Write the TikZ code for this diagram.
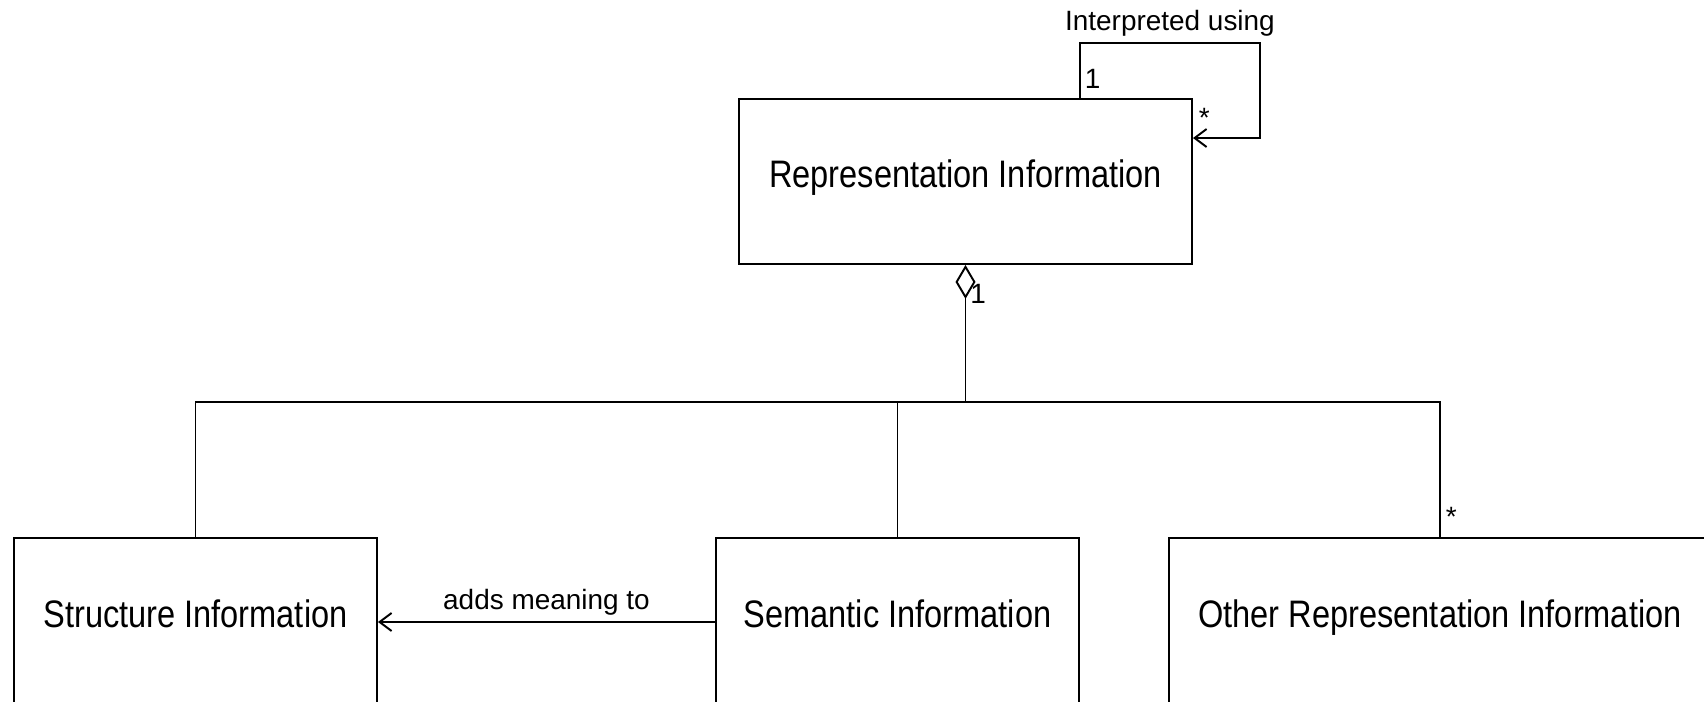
\documentclass[tikz,border=0pt]{standalone}
\usepackage{fontspec}
\setmainfont{Liberation Sans}
\newfontfamily\boxfont{Liberation Sans}[FakeStretch=0.85]
\usetikzlibrary{arrows.meta}

\begin{document}
\begin{tikzpicture}[
    line width=1.1pt,
    classbox/.style={draw, inner sep=0pt, text height=0.55cm, text depth=0.31cm,
      font=\boxfont\fontsize{21.8pt}{26pt}\selectfont},
    role/.style={inner sep=0pt, font=\fontsize{15.9pt}{19pt}\selectfont},
    assoclabel/.style={inner sep=0.12cm, font=\fontsize{15.9pt}{19pt}\selectfont},
    navarrow/.style={-{Straight Barb[length=0.24cm,width=0.36cm]}},
    aggregate/.style={{Diamond[open,length=0.68cm,width=0.40cm]}-}]
    \useasboundingbox (0cm,0cm) rectangle (34.08cm,14.04cm);

    \node[classbox, minimum width=9.06cm, minimum height=3.30cm] (RepInfo)
    at (19.31cm,10.41cm) {Representation Information};
    \node[classbox, minimum width=7.26cm, minimum height=3.36cm] (StructInfo)
    at (3.91cm,1.60cm) {Structure Information};
    \node[classbox, minimum width=7.26cm, minimum height=3.36cm] (SemInfo)
    at (17.95cm,1.60cm) {Semantic Information};
    \node[classbox, minimum width=10.84cm, minimum height=3.36cm] (OtherInfo)
    at (28.80cm,1.60cm) {Other Representation Information};

    \coordinate (Bus) at (0cm,6.00cm);
    \coordinate (LoopStart) at ([xshift=-2.26cm]RepInfo.north east);
    \coordinate (LoopEnd) at ([yshift=-0.80cm]RepInfo.north east);

    \draw[navarrow] (LoopStart) -- ++(0cm,1.10cm) -| ([xshift=1.34cm]LoopEnd)
    node[pos=0.25, above, assoclabel] {Interpreted using} -- (LoopEnd);
    \node[role, anchor=base west] (LoopOne) at ([xshift=0.08cm,yshift=0.20cm]LoopStart) {1};
    \node[role, anchor=base west] (LoopMany) at ([xshift=0.10cm,yshift=0.22cm]LoopEnd) {*};

    \draw[aggregate] (RepInfo.south) -- (RepInfo.south |- Bus);
    \node[role, anchor=base west] (AggOne) at ([xshift=0.08cm,yshift=-0.78cm]RepInfo.south) {1};
    \draw (StructInfo.north) -- (StructInfo.north |- Bus) -- (OtherInfo.north |- Bus)
    -- (OtherInfo.north);
    \draw (SemInfo.north) -- (SemInfo.north |- Bus);
    \node[role, anchor=base west] (OtherMany) at ([xshift=0.10cm,yshift=0.22cm]OtherInfo.north) {*};

    \draw[navarrow] (SemInfo.west) -- (StructInfo.east)
    node[midway, above, assoclabel] {adds meaning to};
  \end{tikzpicture}
\end{document}
